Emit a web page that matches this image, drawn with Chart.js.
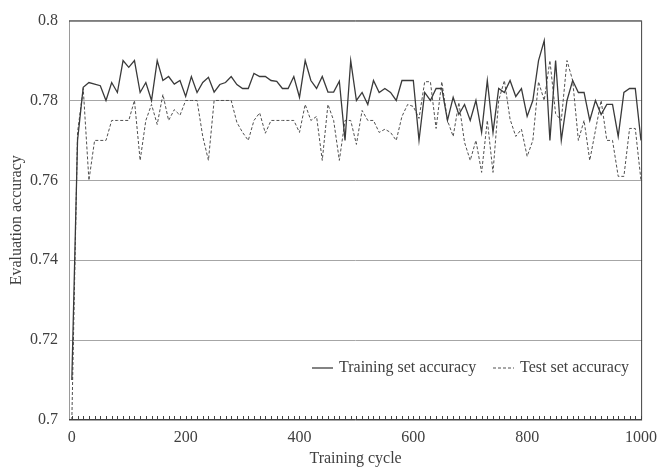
<!DOCTYPE html>
<html>
<head>
<meta charset="utf-8">
<script src="https://cdn.jsdelivr.net/npm/chart.js@4.4.1/dist/chart.umd.min.js"></script>
<style>
  html, body { margin: 0; padding: 0; background: #fff; }
  #wrap { width: 665px; height: 468px; }
</style>
</head>
<body>
<div id="wrap"><canvas id="accChart"></canvas></div>
<script>
// Training cycles (one point every 10 cycles)
const cycles = Array.from({ length: 101 }, (_, i) => i * 10);

const trainAcc = [
  0.710, 0.770, 0.7833, 0.7845, 0.7841, 0.7837, 0.780, 0.7845, 0.782, 0.790,
  0.7883, 0.790, 0.782, 0.7845, 0.780, 0.790, 0.785, 0.786, 0.7841, 0.785,
  0.781, 0.786, 0.782, 0.7845, 0.7858, 0.7821, 0.784, 0.7845, 0.786, 0.784,
  0.783, 0.783, 0.7868, 0.786, 0.786, 0.785, 0.7848, 0.783, 0.783, 0.786,
  0.7808, 0.790, 0.785, 0.783, 0.786, 0.7821, 0.7821, 0.7848, 0.770, 0.790,
  0.780, 0.782, 0.779, 0.785, 0.782, 0.783, 0.782, 0.780, 0.785, 0.785,
  0.785, 0.770, 0.782, 0.780, 0.783, 0.783, 0.775, 0.7808, 0.7765, 0.779,
  0.775, 0.780, 0.772, 0.785, 0.772, 0.783, 0.782, 0.785, 0.781, 0.783,
  0.776, 0.780, 0.790, 0.795, 0.770, 0.790, 0.770, 0.780, 0.785, 0.782,
  0.782, 0.775, 0.780, 0.7765, 0.779, 0.779, 0.771, 0.782, 0.783, 0.783,
  0.770
];

const testAcc = [
  0.700, 0.772, 0.783, 0.760, 0.770, 0.770, 0.770, 0.775, 0.775, 0.775,
  0.775, 0.780, 0.765, 0.775, 0.779, 0.774, 0.7815, 0.775, 0.7777, 0.7763,
  0.780, 0.780, 0.780, 0.771, 0.765, 0.780, 0.780, 0.780, 0.780, 0.7745,
  0.772, 0.770, 0.775, 0.7769, 0.7718, 0.775, 0.775, 0.775, 0.775, 0.775,
  0.772, 0.779, 0.775, 0.776, 0.765, 0.779, 0.775, 0.765, 0.775, 0.775,
  0.769, 0.7775, 0.775, 0.775, 0.772, 0.7728, 0.772, 0.770, 0.776, 0.779,
  0.7785, 0.7755, 0.7847, 0.7847, 0.773, 0.7847, 0.775, 0.771, 0.7795, 0.7695,
  0.765, 0.770, 0.762, 0.775, 0.762, 0.780, 0.785, 0.7753, 0.771, 0.7728,
  0.766, 0.770, 0.7847, 0.780, 0.790, 0.7767, 0.775, 0.790, 0.785, 0.770,
  0.775, 0.765, 0.7725, 0.780, 0.770, 0.770, 0.761, 0.761, 0.773, 0.773,
  0.760
];

const xLabelStep = 200;
const yTicks = [0.7, 0.72, 0.74, 0.76, 0.78, 0.8];

const textColor = '#404040';
const serif = 'Liberation Serif, "Times New Roman", serif';
const fontSize = 16;

// Frame, inner tick marks and the in-plot legend
const framePlugin = {
  id: 'frame',
  afterDraw(chart) {
    const { ctx, chartArea: a, scales } = chart;
    ctx.save();
    // ticks on the x axis, pointing up
    ctx.strokeStyle = '#404040';
    ctx.lineWidth = 1;
    ctx.beginPath();
    cycles.forEach(c => {
      const x = Math.round(scales.x.getPixelForValue(c)) + 0.5;
      ctx.moveTo(x, a.bottom);
      ctx.lineTo(x, a.bottom - 4);
    });
    ctx.stroke();
    // border
    ctx.strokeStyle = '#9a9a9a';
    ctx.beginPath();
    ctx.moveTo(a.left + 0.5, a.top);
    ctx.lineTo(a.left + 0.5, a.bottom);
    ctx.stroke();
    ctx.strokeStyle = '#404040';
    ctx.beginPath();
    ctx.moveTo(a.left, a.top + 0.5);
    ctx.lineTo(a.right - 0.5, a.top + 0.5);
    ctx.lineTo(a.right - 0.5, a.bottom - 0.5);
    ctx.lineTo(a.left, a.bottom - 0.5);
    ctx.stroke();

    // legend
    const ly = a.bottom - 52;
    ctx.font = fontSize + 'px ' + serif;
    ctx.fillStyle = textColor;
    ctx.textBaseline = 'middle';
    ctx.strokeStyle = '#404040';
    ctx.lineWidth = 1.3;
    ctx.beginPath();
    ctx.moveTo(a.left + 243, ly);
    ctx.lineTo(a.left + 264, ly);
    ctx.stroke();
    ctx.fillText(chart.data.datasets[0].label, a.left + 270, ly);
    ctx.strokeStyle = '#505050';
    ctx.lineWidth = 1;
    ctx.setLineDash([3, 2]);
    ctx.beginPath();
    ctx.moveTo(a.left + 424, ly);
    ctx.lineTo(a.left + 445, ly);
    ctx.stroke();
    ctx.setLineDash([]);
    ctx.fillText(chart.data.datasets[1].label, a.left + 451, ly);
    ctx.restore();
  }
};

const chart = new Chart(document.getElementById('accChart'), {
  type: 'line',
  data: {
    datasets: [{
      label: 'Training set accuracy',
      data: cycles.map((c, i) => ({ x: c, y: trainAcc[i] })),
      borderColor: '#3a3a3a',
      borderWidth: 1.3,
      pointRadius: 0,
      tension: 0
    }, {
      label: 'Test set accuracy',
      data: cycles.map((c, i) => ({ x: c, y: testAcc[i] })),
      borderColor: '#505050',
      borderWidth: 1,
      borderDash: [3, 2],
      pointRadius: 0,
      tension: 0
    }]
  },
  options: {
    responsive: true,
    maintainAspectRatio: false,
    animation: false,
    layout: { padding: { top: 16, right: 14, left: 0, bottom: 0 } },
    plugins: {
      legend: { display: false },
      tooltip: { enabled: false }
    },
    scales: {
      x: {
        type: 'linear',
        min: -5,
        max: 1002,
        afterBuildTicks: s => { s.ticks = cycles.map(v => ({ value: v })); },
        afterFit: s => { s.height = 48; },
        grid: { display: false, drawTicks: false },
        border: { display: false },
        ticks: {
          autoSkip: false,
          maxRotation: 0,
          padding: 8,
          color: textColor,
          font: { family: serif, size: fontSize },
          callback: v => (v % xLabelStep === 0 ? String(v) : '')
        },
        title: {
          display: true,
          text: 'Training cycle',
          color: textColor,
          font: { family: serif, size: fontSize },
          padding: 0
        }
      },
      y: {
        min: 0.7,
        max: 0.8,
        afterBuildTicks: s => { s.ticks = yTicks.map(v => ({ value: v })); },
        afterFit: s => { s.width = 69; },
        grid: { color: '#a6a6a6', drawTicks: false, lineWidth: 1 },
        border: { display: false },
        ticks: {
          padding: 11,
          color: textColor,
          font: { family: serif, size: fontSize },
          callback: v => String(+v.toFixed(2))
        },
        title: {
          display: true,
          text: 'Evaluation accuracy',
          color: textColor,
          font: { family: serif, size: fontSize },
          padding: { top: 7, bottom: 0 }
        }
      }
    }
  },
  plugins: [framePlugin]
});
</script>
</body>
</html>
